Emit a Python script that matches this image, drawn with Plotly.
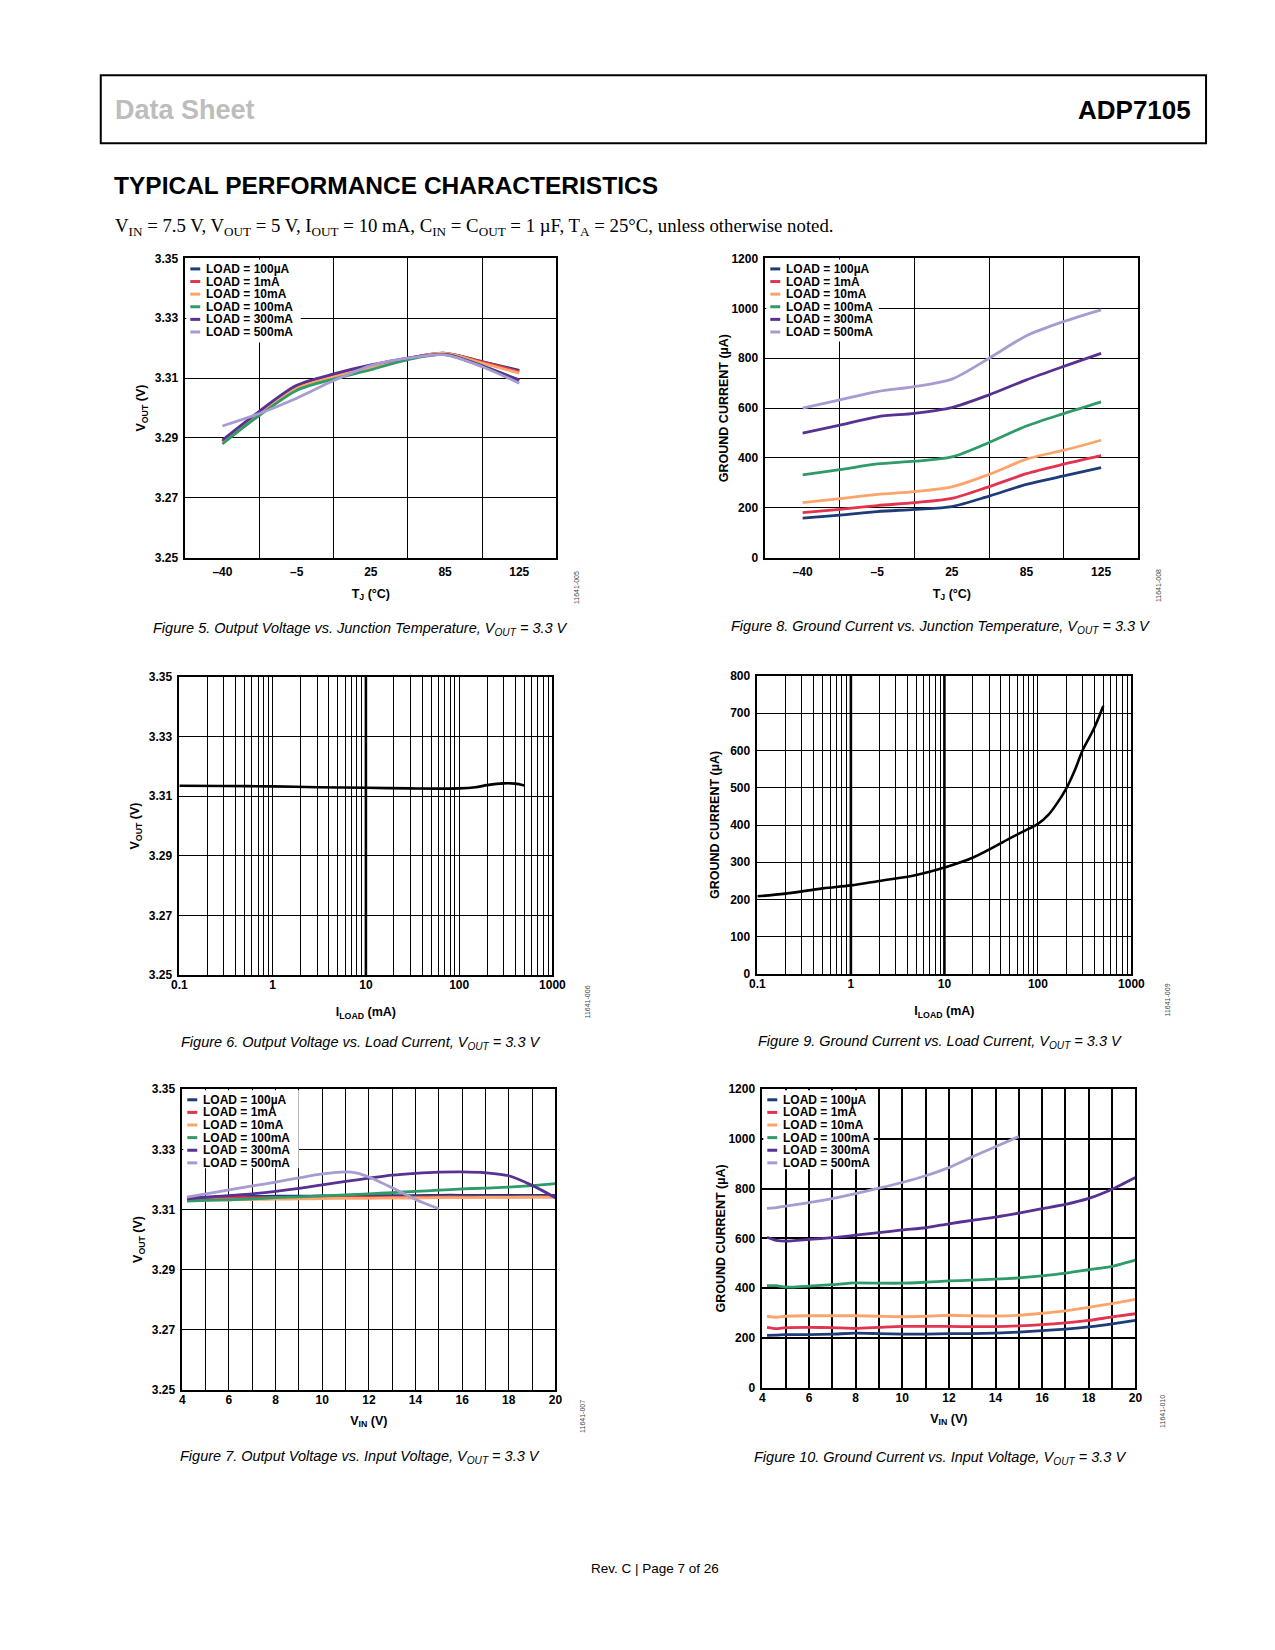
import plotly.graph_objects as go

# page size in the reference, and the browser's default 8px body margin
W, H = 1275, 1650
PAGE_MARGIN = 8
FW, FH = W - 2 * PAGE_MARGIN, H - 2 * PAGE_MARGIN
# the photograph shows the page with its margins scaled into 1275x1650
SX, SY = (W + 2 * PAGE_MARGIN) / W, (H + 2 * PAGE_MARGIN) / H

# ---------------- data ----------------
SERIES = ["LOAD = 100µA", "LOAD = 1mA", "LOAD = 10mA", "LOAD = 100mA", "LOAD = 300mA", "LOAD = 500mA"]
COLORS = ["#1d3c78", "#e2334f", "#fba56c", "#2e9b68", "#573292", "#a89bd0"]

TJ_LABELS = ["–40", "–5", "25", "85", "125"]
TJ_TICKPOS = [0, 1, 2, 3, 4]
TJ_POS = [0, 0.5, 1, 1.5, 2, 2.5, 3, 3.5, 4]   # positions along the category-like temperature axis

VOUT_TICKS = [3.25, 3.27, 3.29, 3.31, 3.33, 3.35]
VOUT_TICKTEXT = ["3.25", "3.27", "3.29", "3.31", "3.33", "3.35"]

# Figure 5: VOUT vs TJ
F5_100UA = [3.2889, 3.2985, 3.3070, 3.3108, 3.3139, 3.3166, 3.3183, 3.3155, 3.3126]
F5_1MA = [3.2887, 3.2983, 3.3068, 3.3106, 3.3138, 3.3166, 3.3183, 3.3154, 3.3122]
F5_10MA = [3.2885, 3.2981, 3.3066, 3.3104, 3.3136, 3.3165, 3.3183, 3.3150, 3.3117]
F5_100MA = [3.2880, 3.2976, 3.3059, 3.3097, 3.3128, 3.3162, 3.3179, 3.3142, 3.3092]
F5_300MA = [3.2893, 3.2990, 3.3076, 3.3114, 3.3144, 3.3167, 3.3179, 3.3140, 3.3094]
F5_500MA = [3.2940, 3.2982, 3.3033, 3.3092, 3.3142, 3.3167, 3.3178, 3.3138, 3.3083]

# Figure 8: ground current vs TJ
F8_100UA = [159, 171, 185, 194, 205, 247, 294, 328, 361]
F8_1MA = [181, 194, 209, 221, 238, 285, 337, 375, 409]
F8_10MA = [221, 237, 254, 265, 284, 334, 395, 431, 471]
F8_100MA = [332, 353, 376, 387, 404, 462, 528, 578, 625]
F8_300MA = [500, 532, 565, 579, 602, 653, 713, 767, 819]
F8_500MA = [600, 633, 666, 686, 716, 800, 890, 947, 994]

# Figure 6: VOUT vs ILOAD
F6_ILOAD = [0.1, 0.3, 1, 3, 10, 30, 100, 150, 200, 300, 400, 500]
F6_VOUT = [3.3135, 3.3134, 3.3133, 3.3130, 3.3128, 3.3126, 3.3126, 3.3130, 3.3137, 3.3143, 3.3142, 3.3136]

# Figure 9: ground current vs ILOAD
F9_ILOAD = [0.1, 0.2, 0.5, 1, 2, 5, 10, 20, 50, 70, 100, 130, 160, 200, 250, 300, 400, 500]
F9_IGND = [209, 216, 230, 238, 250, 266, 286, 312, 364, 383, 403, 428, 458, 497, 549, 600, 660, 719]

LOG_TICKVALS = [0.1, 1, 10, 100, 1000]
LOG_TICKTEXT = ["0.1", "1", "10", "100", "1000"]
F6_HEAVY_GRID = [10]        # decade lines printed heavier in the reference
F9_HEAVY_GRID = [1, 10]

# Figure 7: VOUT vs VIN
F7_VIN = [4.2, 5, 6, 7, 8, 9, 10, 11, 12, 13, 14, 15, 16, 17, 18, 19, 20]
F7_100UA = [3.3140, 3.3141, 3.3142, 3.3143, 3.3144, 3.3144, 3.3145, 3.3145, 3.3146, 3.3146, 3.3146, 3.3147, 3.3147, 3.3147, 3.3147, 3.3147, 3.3147]
F7_1MA = [3.3137, 3.3138, 3.3139, 3.3139, 3.3140, 3.3140, 3.3140, 3.3141, 3.3141, 3.3141, 3.3141, 3.3142, 3.3142, 3.3142, 3.3142, 3.3142, 3.3142]
F7_10MA = [3.3130, 3.3131, 3.3132, 3.3133, 3.3134, 3.3135, 3.3136, 3.3137, 3.3137, 3.3138, 3.3138, 3.3139, 3.3139, 3.3140, 3.3140, 3.3141, 3.3141]
F7_100MA = [3.3128, 3.3130, 3.3132, 3.3135, 3.3139, 3.3142, 3.3145, 3.3148, 3.3152, 3.3156, 3.3160, 3.3164, 3.3168, 3.3171, 3.3174, 3.3179, 3.3186]
F7_300MA = [3.3135, 3.3140, 3.3146, 3.3152, 3.3160, 3.3170, 3.3182, 3.3193, 3.3204, 3.3214, 3.3220, 3.3224, 3.3225, 3.3222, 3.3212, 3.3180, 3.3139]
F7_VIN_500 = [4.2, 5, 6, 7, 8, 9, 10, 11, 11.5, 12, 13, 14, 15]
F7_500MA = [3.3141, 3.3152, 3.3165, 3.3178, 3.3191, 3.3205, 3.3218, 3.3225, 3.3221, 3.3208, 3.3172, 3.3133, 3.3102]

# Figure 10: ground current vs VIN
F10_VIN = [4.2, 4.6, 5, 6, 7, 8, 9, 10, 11, 12, 13, 14, 15, 16, 17, 18, 19, 20]
F10_100UA = [210, 211, 213, 213, 215, 219, 217, 215, 215, 217, 217, 219, 223, 229, 235, 244, 256, 270]
F10_1MA = [242, 237, 241, 242, 241, 238, 242, 246, 246, 246, 245, 245, 248, 253, 260, 270, 284, 297]
F10_10MA = [287, 283, 287, 289, 289, 289, 287, 285, 287, 291, 289, 288, 291, 299, 309, 323, 338, 355]
F10_100MA = [410, 410, 404, 408, 414, 421, 420, 420, 424, 429, 432, 436, 441, 449, 460, 474, 488, 513]
F10_300MA = [605, 592, 589, 596, 603, 613, 623, 634, 643, 659, 673, 686, 702, 720, 737, 761, 798, 845]
F10_VIN_500 = [4.2, 4.6, 5, 6, 7, 8, 9, 10, 11, 12, 13, 14, 15]
F10_500MA = [721, 724, 730, 744, 760, 780, 802, 825, 852, 885, 928, 969, 1010]


# ---------------- helpers (target picture pixels -> paper fractions) ----------------
def fx(x):
    page = x * SX - PAGE_MARGIN
    return (page - PAGE_MARGIN) / FW


def fy(y):
    page = y * SY - PAGE_MARGIN
    return 1 - (page - PAGE_MARGIN) / FH


SANS = "Liberation Sans, Arial, Helvetica, sans-serif"
SERIF = "Liberation Serif, Times New Roman, serif"
TICKFONT = dict(family=SANS, size=12, color="black", weight="bold")
TITLEFONT = dict(family=SANS, size=12.5, color="black", weight="bold")

# panel pixel boxes in the picture: left, right, top, bottom
PANELS = {
    "f5": (186, 559, 259, 558),
    "f8": (769, 1144, 259, 558),
    "f6": (180, 555, 677, 975),
    "f9": (761, 1137, 676, 974),
    "f7": (183, 558, 1089, 1389),
    "f10": (766, 1141, 1089, 1387),
}

fig = go.Figure()


def add_lines(xs_list, ys_list, xa, ya, width=2.8, smoothing=0.8):
    for name, color, xs, ys in zip(SERIES, COLORS, xs_list, ys_list):
        fig.add_trace(go.Scatter(
            x=xs, y=ys, mode="lines", name=name, showlegend=False,
            line=dict(color=color, width=width, shape="spline", smoothing=smoothing),
            xaxis=xa, yaxis=ya, hoverinfo="skip"))


add_lines([TJ_POS] * 6, [F5_100UA, F5_1MA, F5_10MA, F5_100MA, F5_300MA, F5_500MA], "x", "y")
add_lines([TJ_POS] * 6, [F8_100UA, F8_1MA, F8_10MA, F8_100MA, F8_300MA, F8_500MA], "x2", "y2")
fig.add_trace(go.Scatter(x=F6_ILOAD, y=F6_VOUT, mode="lines", showlegend=False,
                         line=dict(color="black", width=2.6, shape="spline", smoothing=0.8),
                         xaxis="x3", yaxis="y3", hoverinfo="skip"))
fig.add_trace(go.Scatter(x=F9_ILOAD, y=F9_IGND, mode="lines", showlegend=False,
                         line=dict(color="black", width=2.6, shape="spline", smoothing=1.0),
                         xaxis="x4", yaxis="y4", hoverinfo="skip"))
add_lines([F7_VIN] * 5 + [F7_VIN_500], [F7_100UA, F7_1MA, F7_10MA, F7_100MA, F7_300MA, F7_500MA], "x5", "y5")
add_lines([F10_VIN] * 5 + [F10_VIN_500], [F10_100UA, F10_1MA, F10_10MA, F10_100MA, F10_300MA, F10_500MA], "x6", "y6",
          smoothing=0.6)


def base_axis(key, which, **kw):
    L, R, T, B = PANELS[key]
    d = dict(showline=True, mirror=True, linecolor="black", linewidth=1.6,
             showgrid=True, gridcolor="black", gridwidth=1, zeroline=False,
             ticks="", tickfont=TICKFONT, fixedrange=True)
    if which == "x":
        d["domain"] = [fx(L), fx(R)]
    else:
        d["domain"] = [fy(B), fy(T)]
    d.update(kw)
    return d


TJ_MINOR = dict(tickvals=[0.5, 1.5, 2.5, 3.5], showgrid=True, gridcolor="black", gridwidth=1, ticks="")
LOG_MINOR = dict(tickvals=[m * 10 ** e for e in (-1, 0, 1, 2) for m in range(2, 10)],
                 showgrid=True, gridcolor="black", gridwidth=1, ticks="")
VIN_MINOR = dict(dtick=1, tick0=4, showgrid=True, gridcolor="black", gridwidth=1, ticks="")


def title(text, standoff):
    return dict(text=text, font=TITLEFONT, standoff=standoff)


VOUT_AXIS = dict(range=[3.25, 3.35], tickmode="array", tickvals=VOUT_TICKS, ticktext=VOUT_TICKTEXT,
                 title=title("V<sub>OUT</sub> (V)", 6), ticklabelstandoff=3)
IGND = "GROUND CURRENT (µA)"
TJ_T = "T<sub>J</sub> (°C)"
IL_T = "I<sub>LOAD</sub> (mA)"
VIN_T = "V<sub>IN</sub> (V)"

fig.update_layout(
    # Figure 5
    xaxis=base_axis("f5", "x", anchor="y", range=[-0.5, 4.5], tickmode="array", tickvals=TJ_TICKPOS,
                    ticktext=TJ_LABELS, showgrid=False, minor=TJ_MINOR, title=title(TJ_T, 11),
                    ticklabelstandoff=2),
    yaxis=base_axis("f5", "y", anchor="x", **VOUT_AXIS),
    # Figure 8
    xaxis2=base_axis("f8", "x", anchor="y2", range=[-0.5, 4.5], tickmode="array", tickvals=TJ_TICKPOS,
                     ticktext=TJ_LABELS, showgrid=False, minor=TJ_MINOR, title=title(TJ_T, 11),
                     ticklabelstandoff=2),
    yaxis2=base_axis("f8", "y", anchor="x2", range=[0, 1200], dtick=200, title=title(IGND, 0),
                     ticklabelstandoff=3),
    # Figure 6
    xaxis3=base_axis("f6", "x", anchor="y3", type="log", range=[-1, 3], tickmode="array",
                     tickvals=LOG_TICKVALS, ticktext=LOG_TICKTEXT, minor=LOG_MINOR, title=title(IL_T, 16),
                     ticklabelstandoff=-2),
    yaxis3=base_axis("f6", "y", anchor="x3", **VOUT_AXIS),
    # Figure 9
    xaxis4=base_axis("f9", "x", anchor="y4", type="log", range=[-1, 3], tickmode="array",
                     tickvals=LOG_TICKVALS, ticktext=LOG_TICKTEXT, minor=LOG_MINOR, title=title(IL_T, 16),
                     ticklabelstandoff=-2),
    yaxis4=base_axis("f9", "y", anchor="x4", range=[0, 800], dtick=100, title=title(IGND, 8),
                     ticklabelstandoff=3),
    # Figure 7
    xaxis5=base_axis("f7", "x", anchor="y5", range=[4, 20], dtick=2, tick0=4, minor=VIN_MINOR,
                     title=title(VIN_T, 10), ticklabelstandoff=-2),
    yaxis5=base_axis("f7", "y", anchor="x5", **VOUT_AXIS),
    # Figure 10
    xaxis6=base_axis("f10", "x", anchor="y6", range=[4, 20], dtick=2, tick0=4, gridwidth=1.8,
                     minor=dict(VIN_MINOR, gridwidth=1.8), title=title(VIN_T, 10), ticklabelstandoff=-2),
    yaxis6=base_axis("f10", "y", anchor="x6", range=[0, 1200], dtick=200, gridwidth=1.8,
                     title=title(IGND, 0), ticklabelstandoff=3),
)

shapes = []
annotations = []

# heavier decade gridlines on the log plots (same black as the curve, so drawn on top)
for xv in F6_HEAVY_GRID:
    shapes.append(dict(type="line", xref="x3", yref="paper", x0=xv, x1=xv,
                       y0=fy(PANELS["f6"][3]), y1=fy(PANELS["f6"][2]),
                       line=dict(color="black", width=2.6), layer="above"))
for xv in F9_HEAVY_GRID:
    shapes.append(dict(type="line", xref="x4", yref="paper", x0=xv, x1=xv,
                       y0=fy(PANELS["f9"][3]), y1=fy(PANELS["f9"][2]),
                       line=dict(color="black", width=2.6), layer="above"))

# header frame
shapes.append(dict(type="rect", xref="paper", yref="paper", x0=fx(101), x1=fx(1212), y0=fy(144), y1=fy(76),
                   line=dict(color="black", width=2), fillcolor="rgba(0,0,0,0)"))
annotations.append(dict(text="Data Sheet", x=fx(113), y=fy(111), xref="paper", yref="paper",
                        xanchor="left", yanchor="middle", showarrow=False,
                        font=dict(family=SANS, size=27, color="#bdbdbd", weight="bold")))
annotations.append(dict(text="ADP7105", x=fx(1199), y=fy(111), xref="paper", yref="paper",
                        xanchor="right", yanchor="middle", showarrow=False,
                        font=dict(family=SANS, size=26, color="black", weight="bold")))
annotations.append(dict(text="TYPICAL PERFORMANCE CHARACTERISTICS", x=fx(112), y=fy(186), xref="paper",
                        yref="paper", xanchor="left", yanchor="middle", showarrow=False,
                        font=dict(family=SANS, size=24.5, color="black", weight="bold")))
annotations.append(dict(
    text="V<sub>IN</sub> = 7.5 V, V<sub>OUT</sub> = 5 V, I<sub>OUT</sub> = 10 mA, C<sub>IN</sub> = "
         "C<sub>OUT</sub> = 1 µF, T<sub>A</sub> = 25°C, unless otherwise noted.",
    x=fx(113), y=fy(228), xref="paper", yref="paper", xanchor="left", yanchor="middle", showarrow=False,
    font=dict(family=SERIF, size=18.8, color="black")))

# captions
CAPTIONS = [
    ("Figure 5. Output Voltage vs. Junction Temperature, V<sub>OUT</sub> = 3.3 V", 362, 629),
    ("Figure 8. Ground Current vs. Junction Temperature, V<sub>OUT</sub> = 3.3 V", 945, 627),
    ("Figure 6. Output Voltage vs. Load Current, V<sub>OUT</sub> = 3.3 V", 362, 1043),
    ("Figure 9. Ground Current vs. Load Current, V<sub>OUT</sub> = 3.3 V", 945, 1042),
    ("Figure 7. Output Voltage vs. Input Voltage, V<sub>OUT</sub> = 3.3 V", 362, 1456),
    ("Figure 10. Ground Current vs. Input Voltage, V<sub>OUT</sub> = 3.3 V", 945, 1457),
]
for txt, cx, cy in CAPTIONS:
    annotations.append(dict(text="<i>" + txt + "</i>", x=fx(cx), y=fy(cy), xref="paper", yref="paper",
                            xanchor="center", yanchor="middle", showarrow=False,
                            font=dict(family=SANS, size=14.5, color="black")))

# side codes
CODES = [("11641-005", 579, 588), ("11641-008", 1164, 586), ("11641-006", 590, 1002),
         ("11641-009", 1173, 1000), ("11641-007", 585, 1416), ("11641-010", 1168, 1411)]
for txt, cx, cy in CODES:
    annotations.append(dict(text=txt, x=fx(cx), y=fy(cy), xref="paper", yref="paper", textangle=-90,
                            xanchor="center", yanchor="middle", showarrow=False,
                            font=dict(family=SANS, size=7, color="#444")))

annotations.append(dict(text="Rev. C | Page 7 of 26", x=fx(658), y=fy(1568), xref="paper", yref="paper",
                        xanchor="center", yanchor="middle", showarrow=False,
                        font=dict(family=SANS, size=13.5, color="black")))


# legends (keyed boxes inside the panels)
def add_legend(key, bg_right, bg_bottom):
    L, R, T, B = PANELS[key]
    shapes.append(dict(type="rect", xref="paper", yref="paper", x0=fx(L + 1), x1=fx(bg_right),
                       y0=fy(bg_bottom), y1=fy(T + 1), line=dict(width=0), fillcolor="white", layer="above"))
    for i, (name, color) in enumerate(zip(SERIES, COLORS)):
        yy = T + 10.5 + 12.6 * i
        shapes.append(dict(type="line", xref="paper", yref="paper", x0=fx(L + 5), x1=fx(L + 15),
                           y0=fy(yy), y1=fy(yy), line=dict(color=color, width=3), layer="above"))
        annotations.append(dict(text=name, x=fx(L + 19), y=fy(yy), xref="paper", yref="paper",
                                xanchor="left", yanchor="middle", showarrow=False,
                                font=dict(family=SANS, size=12, color="black", weight="bold")))


add_legend("f5", 302, 343)
add_legend("f8", 883, 342)
add_legend("f7", 300, 1168)
add_legend("f10", 878, 1169)

fig.update_layout(
    width=FW, height=FH, autosize=False,
    margin=dict(l=0, r=0, t=0, b=0),
    paper_bgcolor="white", plot_bgcolor="white",
    showlegend=False,
    shapes=shapes, annotations=annotations,
)

fig.write_html("out.html", config={"displayModeBar": False})
